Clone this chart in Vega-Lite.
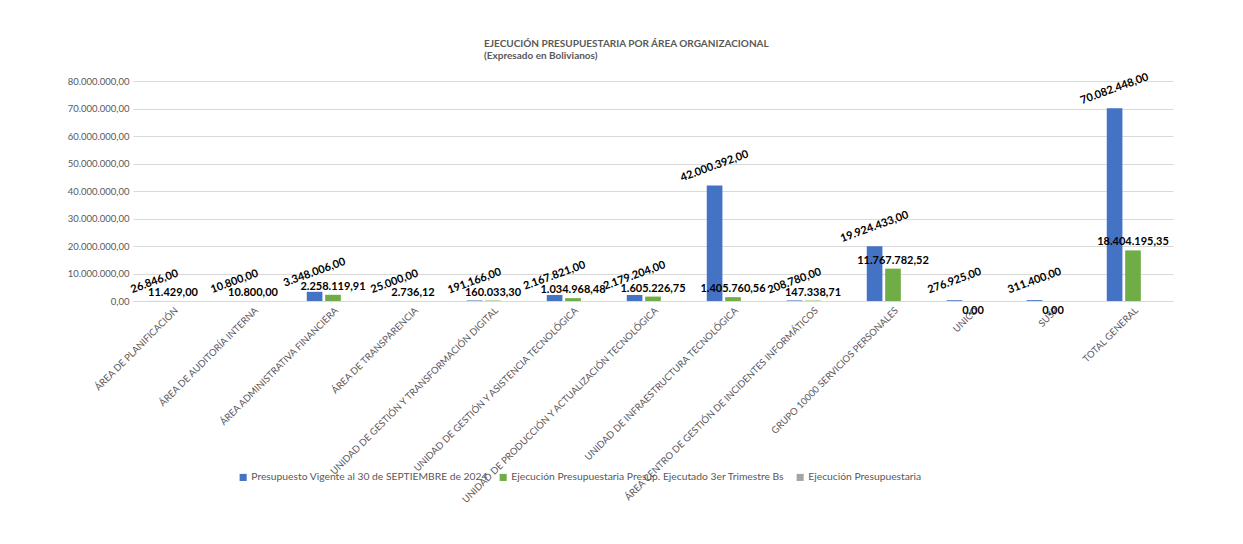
{
  "$schema": "https://vega.github.io/schema/vega-lite/v6.json",
  "autosize": "none",
  "width": 1040,
  "height": 220,
  "padding": {"left": 133, "top": 81, "right": 70, "bottom": 243},
  "background": "white",
  "config": {
    "locale": {"number": {"decimal": ",", "thousands": ".", "grouping": [3], "currency": ["", ""]}},
    "view": {"stroke": null},
    "font": "Lato"
  },
  "title": {
    "text": ["EJECUCIÓN PRESUPUESTARIA POR ÁREA ORGANIZACIONAL", "(Expresado en Bolivianos)"],
    "frame": "group",
    "anchor": "start",
    "align": "left",
    "dx": 351,
    "offset": 10,
    "fontSize": 10,
    "fontWeight": "bold",
    "color": "#595959",
    "font": "Lato",
    "lineHeight": 12
  },
  "data": {
    "values": [
      {"area": "ÁREA DE PLANIFICACIÓN", "serie": "Presupuesto Vigente al 30 de SEPTIEMBRE de 2024", "valor": 26846},
      {"area": "ÁREA DE PLANIFICACIÓN", "serie": "Ejecución Presupuestaria Presup. Ejecutado 3er Trimestre Bs", "valor": 11429},
      {"area": "ÁREA DE PLANIFICACIÓN", "serie": "Ejecución Presupuestaria", "valor": null},
      {"area": "ÁREA DE AUDITORÍA INTERNA", "serie": "Presupuesto Vigente al 30 de SEPTIEMBRE de 2024", "valor": 10800},
      {"area": "ÁREA DE AUDITORÍA INTERNA", "serie": "Ejecución Presupuestaria Presup. Ejecutado 3er Trimestre Bs", "valor": 10800},
      {"area": "ÁREA DE AUDITORÍA INTERNA", "serie": "Ejecución Presupuestaria", "valor": null},
      {"area": "ÁREA ADMINISTRATIVA FINANCIERA", "serie": "Presupuesto Vigente al 30 de SEPTIEMBRE de 2024", "valor": 3348006},
      {"area": "ÁREA ADMINISTRATIVA FINANCIERA", "serie": "Ejecución Presupuestaria Presup. Ejecutado 3er Trimestre Bs", "valor": 2258119.91},
      {"area": "ÁREA ADMINISTRATIVA FINANCIERA", "serie": "Ejecución Presupuestaria", "valor": null},
      {"area": "ÁREA DE TRANSPARENCIA", "serie": "Presupuesto Vigente al 30 de SEPTIEMBRE de 2024", "valor": 25000},
      {"area": "ÁREA DE TRANSPARENCIA", "serie": "Ejecución Presupuestaria Presup. Ejecutado 3er Trimestre Bs", "valor": 2736.12},
      {"area": "ÁREA DE TRANSPARENCIA", "serie": "Ejecución Presupuestaria", "valor": null},
      {"area": "UNIDAD DE GESTIÓN Y TRANSFORMACIÓN DIGITAL", "serie": "Presupuesto Vigente al 30 de SEPTIEMBRE de 2024", "valor": 191166},
      {"area": "UNIDAD DE GESTIÓN Y TRANSFORMACIÓN DIGITAL", "serie": "Ejecución Presupuestaria Presup. Ejecutado 3er Trimestre Bs", "valor": 160033.30},
      {"area": "UNIDAD DE GESTIÓN Y TRANSFORMACIÓN DIGITAL", "serie": "Ejecución Presupuestaria", "valor": null},
      {"area": "UNIDAD DE GESTIÓN Y ASISTENCIA TECNOLÓGICA", "serie": "Presupuesto Vigente al 30 de SEPTIEMBRE de 2024", "valor": 2167821},
      {"area": "UNIDAD DE GESTIÓN Y ASISTENCIA TECNOLÓGICA", "serie": "Ejecución Presupuestaria Presup. Ejecutado 3er Trimestre Bs", "valor": 1034968.48},
      {"area": "UNIDAD DE GESTIÓN Y ASISTENCIA TECNOLÓGICA", "serie": "Ejecución Presupuestaria", "valor": null},
      {"area": "UNIDAD DE PRODUCCIÓN Y ACTUALIZACIÓN TECNOLÓGICA", "serie": "Presupuesto Vigente al 30 de SEPTIEMBRE de 2024", "valor": 2179204},
      {"area": "UNIDAD DE PRODUCCIÓN Y ACTUALIZACIÓN TECNOLÓGICA", "serie": "Ejecución Presupuestaria Presup. Ejecutado 3er Trimestre Bs", "valor": 1605226.75},
      {"area": "UNIDAD DE PRODUCCIÓN Y ACTUALIZACIÓN TECNOLÓGICA", "serie": "Ejecución Presupuestaria", "valor": null},
      {"area": "UNIDAD DE INFRAESTRUCTURA TECNOLÓGICA", "serie": "Presupuesto Vigente al 30 de SEPTIEMBRE de 2024", "valor": 42000392},
      {"area": "UNIDAD DE INFRAESTRUCTURA TECNOLÓGICA", "serie": "Ejecución Presupuestaria Presup. Ejecutado 3er Trimestre Bs", "valor": 1405760.56},
      {"area": "UNIDAD DE INFRAESTRUCTURA TECNOLÓGICA", "serie": "Ejecución Presupuestaria", "valor": null},
      {"area": "ÁREA CENTRO DE GESTIÓN DE INCIDENTES INFORMÁTICOS", "serie": "Presupuesto Vigente al 30 de SEPTIEMBRE de 2024", "valor": 208780},
      {"area": "ÁREA CENTRO DE GESTIÓN DE INCIDENTES INFORMÁTICOS", "serie": "Ejecución Presupuestaria Presup. Ejecutado 3er Trimestre Bs", "valor": 147338.71},
      {"area": "ÁREA CENTRO DE GESTIÓN DE INCIDENTES INFORMÁTICOS", "serie": "Ejecución Presupuestaria", "valor": null},
      {"area": "GRUPO 10000 SERVICIOS PERSONALES", "serie": "Presupuesto Vigente al 30 de SEPTIEMBRE de 2024", "valor": 19924433},
      {"area": "GRUPO 10000 SERVICIOS PERSONALES", "serie": "Ejecución Presupuestaria Presup. Ejecutado 3er Trimestre Bs", "valor": 11767782.52},
      {"area": "GRUPO 10000 SERVICIOS PERSONALES", "serie": "Ejecución Presupuestaria", "valor": null},
      {"area": "UNICO", "serie": "Presupuesto Vigente al 30 de SEPTIEMBRE de 2024", "valor": 276925},
      {"area": "UNICO", "serie": "Ejecución Presupuestaria Presup. Ejecutado 3er Trimestre Bs", "valor": 0},
      {"area": "UNICO", "serie": "Ejecución Presupuestaria", "valor": null},
      {"area": "SUSP", "serie": "Presupuesto Vigente al 30 de SEPTIEMBRE de 2024", "valor": 311400},
      {"area": "SUSP", "serie": "Ejecución Presupuestaria Presup. Ejecutado 3er Trimestre Bs", "valor": 0},
      {"area": "SUSP", "serie": "Ejecución Presupuestaria", "valor": null},
      {"area": "TOTAL GENERAL", "serie": "Presupuesto Vigente al 30 de SEPTIEMBRE de 2024", "valor": 70082448},
      {"area": "TOTAL GENERAL", "serie": "Ejecución Presupuestaria Presup. Ejecutado 3er Trimestre Bs", "valor": 18404195.35},
      {"area": "TOTAL GENERAL", "serie": "Ejecución Presupuestaria", "valor": null}
    ]
  },
  "encoding": {
    "x": {
      "field": "area",
      "type": "nominal",
      "sort": null,
      "scale": {"paddingInner": 0.344, "paddingOuter": 0.172},
      "axis": {
        "title": null,
        "labelAngle": -45,
        "labelFontSize": 9.5,
        "labelColor": "#595959",
        "labelFont": "Lato",
        "labelLimit": 400,
        "labelPadding": 4,
        "ticks": false,
        "domainColor": "#d9d9d9",
        "labelOverlap": false
      }
    },
    "xOffset": {
      "field": "serie",
      "type": "nominal",
      "sort": ["Presupuesto Vigente al 30 de SEPTIEMBRE de 2024", "Ejecución Presupuestaria Presup. Ejecutado 3er Trimestre Bs", "Ejecución Presupuestaria"],
      "scale": {"paddingInner": 0.15, "paddingOuter": 0}
    },
    "y": {
      "field": "valor",
      "type": "quantitative",
      "scale": {"domain": [0, 80000000], "nice": false},
      "axis": {
        "title": null,
        "values": [0, 10000000, 20000000, 30000000, 40000000, 50000000, 60000000, 70000000, 80000000],
        "format": ",.2f",
        "labelFontSize": 9.5,
        "labelColor": "#595959",
        "labelFont": "Lato",
        "ticks": false,
        "domain": false,
        "labelPadding": 4,
        "gridColor": "#d9d9d9",
        "gridWidth": 1
      }
    }
  },
  "layer": [
    {
      "mark": {"type": "bar"},
      "encoding": {
        "color": {
          "field": "serie",
          "type": "nominal",
          "sort": ["Presupuesto Vigente al 30 de SEPTIEMBRE de 2024", "Ejecución Presupuestaria Presup. Ejecutado 3er Trimestre Bs", "Ejecución Presupuestaria"],
          "scale": {
            "domain": ["Presupuesto Vigente al 30 de SEPTIEMBRE de 2024", "Ejecución Presupuestaria Presup. Ejecutado 3er Trimestre Bs", "Ejecución Presupuestaria"],
            "range": ["#4472C4", "#70AD47", "#A5A5A5"]
          },
          "legend": {
            "title": null,
            "orient": "none",
            "legendX": 105,
            "legendY": 391,
            "direction": "horizontal",
            "symbolType": "square",
            "symbolSize": 50,
            "symbolStrokeWidth": 0,
            "labelFontSize": 10.3,
            "labelColor": "#595959",
            "labelFont": "Lato",
            "labelLimit": 400,
            "labelOffset": 3,
            "columnPadding": 10
          }
        }
      }
    },
    {
      "transform": [{"filter": "datum.serie === 'Presupuesto Vigente al 30 de SEPTIEMBRE de 2024'"}],
      "mark": {"type": "text", "angle": -20, "align": "center", "baseline": "middle", "dx": 6.5, "dy": -18, "fontSize": 11, "fontWeight": "bold", "font": "Lato", "color": "#000000"},
      "encoding": {
        "text": {"field": "valor", "type": "quantitative", "format": ",.2f"}
      }
    },
    {
      "transform": [{"filter": "datum.serie === 'Ejecución Presupuestaria Presup. Ejecutado 3er Trimestre Bs'"}],
      "mark": {
        "type": "text",
        "align": "center",
        "baseline": {"expr": "datum.valor == 0 ? 'top' : 'bottom'"},
        "dy": {"expr": "datum.valor == 0 ? 4 : -3"},
        "fontSize": 11,
        "fontWeight": "bold",
        "font": "Lato",
        "color": "#000000"
      },
      "encoding": {
        "text": {"field": "valor", "type": "quantitative", "format": ",.2f"}
      }
    }
  ]
}
